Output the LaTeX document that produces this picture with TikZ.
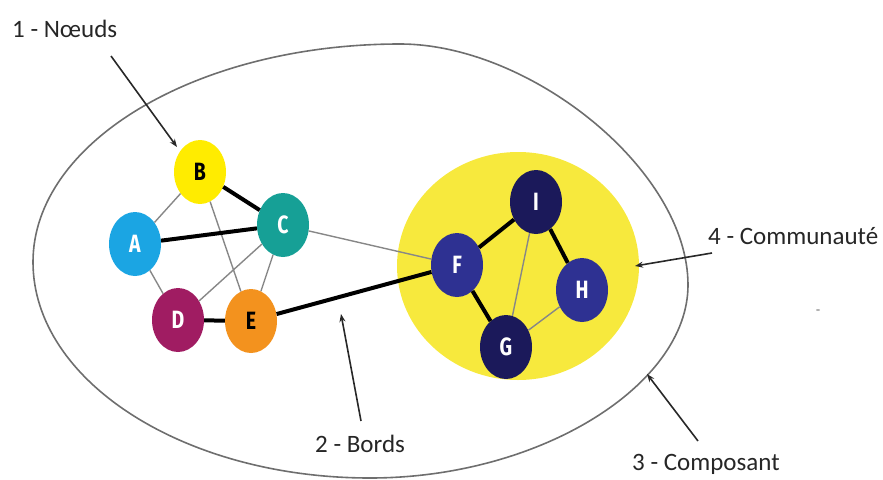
\documentclass[tikz,border=0pt]{standalone}
\usepackage{fontspec}
\usepackage{graphicx}
\setmainfont{Carlito}
\newfontfamily\nodefont{Fira Sans}
\usetikzlibrary{shapes.geometric,arrows.meta}
\definecolor{cA}{RGB}{27,165,227}
\definecolor{cB}{RGB}{255,236,0}
\definecolor{cC}{RGB}{22,160,150}
\definecolor{cD}{RGB}{160,28,98}
\definecolor{cE}{RGB}{243,146,30}
\definecolor{cFH}{RGB}{46,49,146}
\definecolor{cIG}{RGB}{27,25,90}
\definecolor{comyel}{RGB}{247,233,61}
\definecolor{outl}{RGB}{110,110,110}
\definecolor{thinedge}{RGB}{135,135,135}
\definecolor{arrowc}{RGB}{40,40,40}
\tikzset{
  vert/.style={ellipse, inner sep=0pt, minimum width=52pt, minimum height=64pt,
    font=\nodefont\bfseries\fontsize{25}{25}\selectfont, text=white},
  thinE/.style={draw=thinedge, line width=1.4pt},
  thickE/.style={draw=black, line width=4pt},
  lab/.style={anchor=base west, inner sep=0pt, font=\fontsize{25}{28}\selectfont, text=black!85},
  labarrow/.style={draw=arrowc, line width=1.6pt, -{Stealth[length=8pt,width=6pt]}},
}
\newcommand{\sq}[1]{\scalebox{0.78}[1]{#1}}
\begin{document}
\begin{tikzpicture}[x=1pt,y=-1pt]
\useasboundingbox (0,0) rectangle (883,479);
% component outline
\draw[outl, line width=1.6pt] (33,262)
  .. controls (33,142) and (197,44) .. (400,44)
  .. controls (530,44) and (688,170) .. (688,285)
  .. controls (688,385) and (540,478) .. (370,478)
  .. controls (184,478) and (33,381) .. cycle;
% community
\node[ellipse, fill=comyel, minimum width=242pt, minimum height=228pt, inner sep=0pt] (comm) at (518,266) {};
% vertices
\node[vert, fill=cB, text=black] (B) at (200,172) {\sq{B}};
\node[vert, fill=cA] (A) at (135,244) {\sq{A}};
\node[vert, fill=cC] (C) at (283,225) {\sq{C}};
\node[vert, fill=cD] (D) at (178,320) {\sq{D}};
\node[vert, fill=cE, text=black] (E) at (251,321) {\sq{E}};
\node[vert, fill=cFH] (F) at (457,265) {\sq{F}};
\node[vert, fill=cIG] (I) at (536,202) {\sq{I}};
\node[vert, fill=cFH] (H) at (582,290) {\sq{H}};
\node[vert, fill=cIG] (G) at (506,347) {\sq{G}};
% edges
\draw[thinE] (A) -- (B);
\draw[thinE] (B) -- (E);
\draw[thinE] (C) -- (D);
\draw[thinE] (C) -- (E);
\draw[thinE] (A) -- (D);
\draw[thinE] (C) -- (F);
\draw[thinE] (I) -- (G);
\draw[thinE] (G) -- (H);
\draw[thickE] (B) -- (C);
\draw[thickE] (A) -- (C);
\draw[thickE] (D) -- (E);
\draw[thickE] (E) -- (F);
\draw[thickE] (F) -- (I);
\draw[thickE] (I) -- (H);
\draw[thickE] (F) -- (G);
% labels
\node[lab] (l1) at (12,37) {1 - N\oe uds};
\node[lab] (l2) at (315,452) {2 - Bords};
\node[lab] (l3) at (632,470) {3 - Composant};
\node[lab] (l4) at (708,244) {4 - Communauté};
\coordinate (a1s) at (111,56);
\coordinate (a1e) at (177,147);
\coordinate (a2s) at (361,421);
\coordinate (a2e) at (341,314);
\coordinate (a3s) at (698,441);
\coordinate (a3e) at (647,374);
\coordinate (a4s) at (712,253);
\coordinate (a4e) at (635,266);
\draw[labarrow] (a1s) -- (a1e);
\draw[labarrow] (a2s) -- (a2e);
\draw[labarrow] (a3s) -- (a3e);
\draw[labarrow] (a4s) -- (a4e);
\fill[gray!60] (818,310) ellipse [x radius=2, y radius=1];
\end{tikzpicture}
\end{document}
